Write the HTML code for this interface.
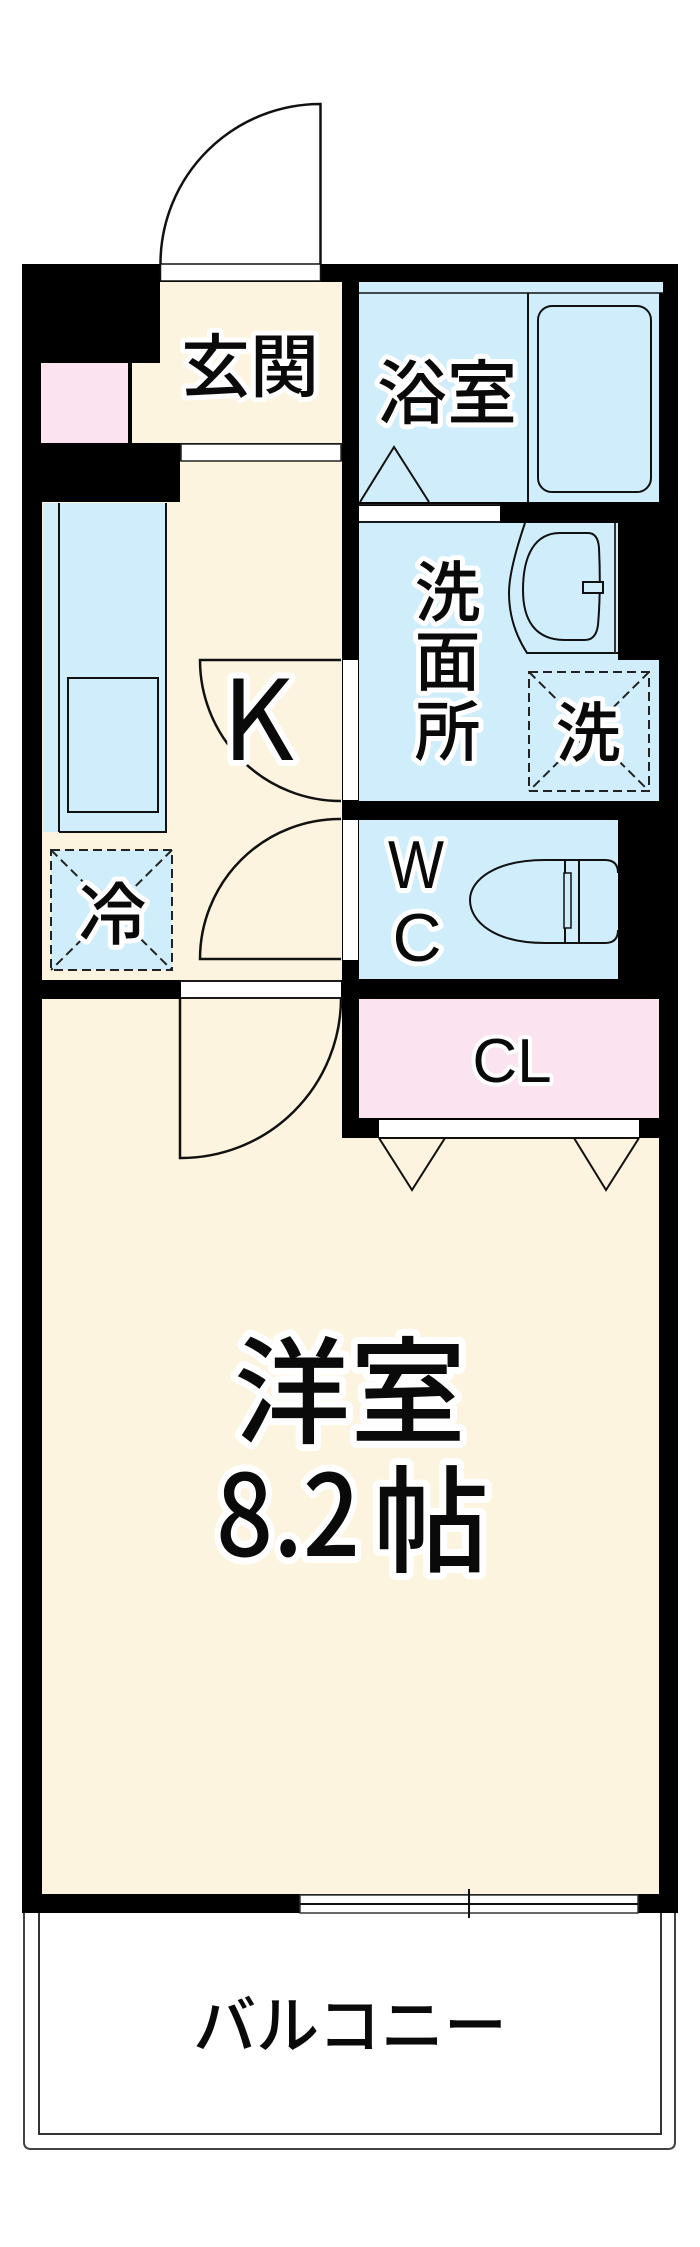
<!DOCTYPE html>
<html lang="ja">
<head>
<meta charset="utf-8">
<title>間取り図</title>
<style>
html,body{margin:0;padding:0;background:#fff;}
svg{display:block;}
text{font-family:"Liberation Sans","Noto Sans CJK JP",sans-serif;fill:#0a0a0a;stroke:#fff;stroke-linejoin:round;paint-order:stroke;}
.j{font-family:"Noto Sans CJK JP",sans-serif;font-weight:500;}
.r{font-family:"Noto Sans CJK JP",sans-serif;font-weight:400;}
</style>
</head>
<body>
<svg width="700" height="2247" viewBox="0 0 700 2247" xmlns="http://www.w3.org/2000/svg">
<rect width="700" height="2247" fill="#fff"/>

<!-- balcony -->
<path d="M24 1913V2142q0 7 7 7H668q7 0 7-7V1913" fill="none" stroke="#444" stroke-width="2"/>
<path d="M39 1913V2134H661V1913" fill="none" stroke="#333" stroke-width="2"/>

<!-- entrance door -->
<path d="M160.500 264V262A160 160 0 0 1 320.500 104V264" fill="#fff" stroke="#111" stroke-width="2.500"/>

<!-- walls -->
<rect x="22" y="264" width="656" height="1649" fill="#000"/>

<!-- rooms -->
<rect x="132" y="363" width="210" height="80" fill="#fdf4df"/>
<rect x="160" y="282" width="182" height="81" fill="#fdf4df"/>
<rect x="41" y="363" width="87" height="80" fill="#fbe4ef"/>
<rect x="42" y="502" width="300" height="478" fill="#fdf4df"/>
<rect x="180" y="461" width="162" height="41" fill="#fdf4df"/>
<rect x="42" y="999" width="617" height="895" fill="#fdf4df"/>
<rect x="342" y="999" width="336" height="139" fill="#000"/>
<rect x="359" y="282" width="304" height="11" fill="#cfedfb"/>
<rect x="359" y="293" width="300" height="209" fill="#cfedfb"/>
<rect x="359" y="523" width="259" height="278" fill="#cfedfb"/>
<rect x="618" y="660" width="41" height="141" fill="#cfedfb"/>
<rect x="359" y="820" width="259" height="159" fill="#cfedfb"/>
<rect x="359" y="999" width="300" height="119" fill="#fbe4ef"/>

<!-- door openings -->
<rect x="160.500" y="264" width="160" height="17" fill="#fff" stroke="#111" stroke-width="1.500"/>
<rect x="181" y="444" width="160" height="17" fill="#fff" stroke="#222" stroke-width="1.500"/>
<rect x="343" y="660" width="15" height="140" fill="#fff"/>
<rect x="343" y="820" width="15" height="140" fill="#fff"/>
<rect x="181" y="982" width="160" height="15" fill="#fff"/>
<path d="M181 981H341M181 998H341" stroke="#222" stroke-width="1.500"/>
<rect x="359" y="506" width="141" height="15" fill="#fff"/>
<path d="M359 504.500H500M359 522H500" stroke="#222" stroke-width="1.500"/>
<rect x="379" y="1120" width="260" height="17" fill="#fff"/>

<!-- bath -->
<path d="M359 293H663" stroke="#111" stroke-width="1.500" fill="none"/>
<path d="M528 293V502" stroke="#111" stroke-width="2" fill="none"/>
<rect x="538" y="306" width="113" height="186" rx="14" fill="none" stroke="#111" stroke-width="2"/>
<path d="M360 502L394 447L429 502" fill="none" stroke="#111" stroke-width="2"/>

<!-- vanity -->
<path d="M525 523Q509 570 509 593Q509 625 527 653H618" fill="none" stroke="#111" stroke-width="2"/>
<path d="M615 523V653" stroke="#333" stroke-width="2"/>
<path d="M560 533H588Q598 533 599 548Q601 590 598 625Q596 640 585 640H565C535 640 523 620 523 590C523 555 535 533 560 533Z" fill="none" stroke="#111" stroke-width="2"/>
<rect x="583" y="582" width="20" height="11" fill="#cfedfb" stroke="#111" stroke-width="2"/>

<!-- washer -->
<rect x="529" y="672" width="120" height="119" fill="none" stroke="#222" stroke-width="2" stroke-dasharray="9 5"/>
<path d="M529 672L649 791M649 672L529 791" fill="none" stroke="#222" stroke-width="2" stroke-dasharray="9 5"/>

<!-- kitchen -->
<rect x="43" y="503" width="123" height="329" fill="#cfedfb"/>
<path d="M59 503V832M59 832H166V503" fill="none" stroke="#111" stroke-width="2"/>
<rect x="68" y="678" width="90" height="134" fill="#cfedfb" stroke="#111" stroke-width="2"/>
<rect x="51" y="850" width="121" height="120" fill="#cfedfb" stroke="#222" stroke-width="2" stroke-dasharray="9 5"/>
<path d="M51 850L172 970M172 850L51 970" fill="none" stroke="#222" stroke-width="2" stroke-dasharray="9 5"/>

<!-- K doors -->
<path d="M341 660H200A141 141 0 0 0 341 801" fill="none" stroke="#111" stroke-width="2.500"/>
<path d="M341 959H200A140 140 0 0 1 341 819" fill="none" stroke="#111" stroke-width="2.500"/>

<!-- toilet -->
<path d="M618 873Q618 860 605 860H545C495 860 470 880 470 900C470 922 495 943 545 943H605Q618 943 618 930" fill="none" stroke="#111" stroke-width="2"/>
<path d="M565 860V943M579 860V943" stroke="#111" stroke-width="2" fill="none"/>
<rect x="564" y="873" width="7" height="55" fill="#cfedfb" stroke="#111" stroke-width="1.500"/>

<!-- room door -->
<path d="M180 999V1158A160 160 0 0 0 341 999" fill="none" stroke="#111" stroke-width="2.500"/>

<!-- closet triangles -->
<path d="M379 1138H639" stroke="#111" stroke-width="2" fill="none"/>
<path d="M379 1138L412 1190L445 1138" fill="none" stroke="#111" stroke-width="2"/>
<path d="M574 1138L606 1190L639 1138" fill="none" stroke="#111" stroke-width="2"/>

<!-- window -->
<rect x="300" y="1895" width="338" height="18" fill="#fff" stroke="#333" stroke-width="1.500"/>
<path d="M300 1904H638" stroke="#111" stroke-width="2"/>
<path d="M469 1889V1918" stroke="#111" stroke-width="2"/>

<!-- labels -->
<text class="j" x="250" y="391" font-size="69" text-anchor="middle" stroke-width="10">玄関</text>
<text class="j" x="447" y="418" font-size="70" text-anchor="middle" stroke-width="10">浴室</text>
<text class="j" x="447.500" y="616" font-size="66" text-anchor="middle" stroke-width="10">洗</text>
<text class="j" x="447.500" y="685" font-size="66" text-anchor="middle" stroke-width="10">面</text>
<text class="j" x="447.500" y="755" font-size="66" text-anchor="middle" stroke-width="10">所</text>
<text class="j" x="588" y="756" font-size="65" text-anchor="middle" stroke-width="10">洗</text>
<text class="r" x="258" y="760" font-size="111" text-anchor="middle" stroke-width="12">K</text>
<text class="j" x="112.500" y="939" font-size="68" text-anchor="middle" stroke-width="10">冷</text>
<text x="416" y="888" font-size="68" text-anchor="middle" stroke-width="10" textLength="56" lengthAdjust="spacingAndGlyphs">W</text>
<text x="417" y="961" font-size="68" text-anchor="middle" stroke-width="10">C</text>
<text x="512" y="1082" font-size="62" text-anchor="middle" stroke-width="8">CL</text>
<text class="j" x="350" y="1434" font-size="116" text-anchor="middle" stroke-width="14">洋室</text>
<text class="j" x="216" y="1556" font-size="113" stroke-width="14" textLength="144" lengthAdjust="spacingAndGlyphs">8.2</text>
<text class="j" x="431" y="1563" font-size="116" text-anchor="middle" stroke-width="14">帖</text>
<text class="j" x="350" y="2048" font-size="63" text-anchor="middle" stroke="none" stroke-width="0">バルコニー</text>
</svg>
</body>
</html>
